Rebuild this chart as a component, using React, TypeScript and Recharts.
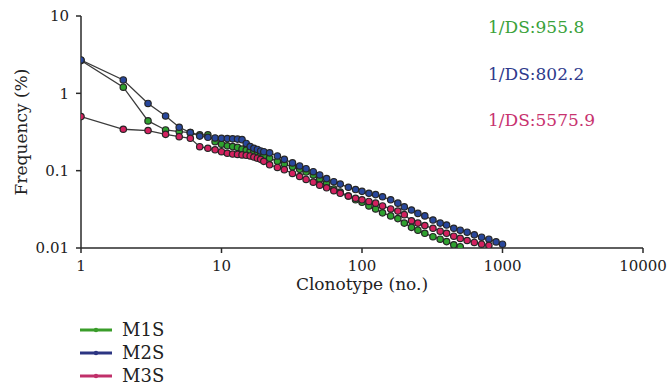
import React from 'react';
import { LineChart, Line, XAxis, YAxis } from 'recharts';

const FONT = '"DejaVu Serif", "Liberation Serif", serif';

// clonotype rank (shared by all three series)
const RANKS = [
  1, 2, 3, 4, 5, 6, 7, 8, 9, 10, 11, 12, 13, 14, 15, 16, 17, 18, 19, 20,
  22, 25, 28, 32, 36, 40, 45, 50, 56, 63, 70, 80, 90, 100,
  112, 125, 140, 160, 180, 200, 225, 250, 280, 320, 360, 400,
  450, 500, 560, 630, 710, 800, 900, 1000,
];

// frequency (%) per rank
const M1S = [
  2.65, 1.2, 0.44, 0.336, 0.32, 0.31, 0.29, 0.29, 0.237, 0.22, 0.21, 0.205, 0.2, 0.19, 0.185, 0.18, 0.175, 0.168, 0.16, 0.155,
  0.145, 0.132, 0.122, 0.112, 0.104, 0.096, 0.088, 0.078, 0.068, 0.058, 0.053, 0.047, 0.042, 0.039,
  0.035, 0.032, 0.0285, 0.026, 0.024, 0.021, 0.0185, 0.017, 0.0155, 0.014, 0.013, 0.0121,
  0.011, 0.0104,
];
const M2S = [
  2.7, 1.49, 0.74, 0.51, 0.364, 0.31, 0.28, 0.27, 0.265, 0.262, 0.26, 0.258, 0.256, 0.252, 0.225, 0.205, 0.195, 0.188, 0.18, 0.176,
  0.17, 0.155, 0.14, 0.126, 0.115, 0.106, 0.097, 0.088, 0.079, 0.072, 0.067, 0.061, 0.057, 0.054,
  0.051, 0.049, 0.046, 0.042, 0.038, 0.034, 0.031, 0.028, 0.026, 0.023, 0.021, 0.0198,
  0.018, 0.017, 0.016, 0.0148, 0.0138, 0.013, 0.012, 0.0112,
];
const M3S = [
  0.5, 0.343, 0.33, 0.295, 0.275, 0.262, 0.204, 0.195, 0.186, 0.176, 0.168, 0.164, 0.162, 0.16, 0.158, 0.155, 0.15, 0.145, 0.14, 0.132,
  0.119, 0.11, 0.103, 0.092, 0.084, 0.077, 0.071, 0.065, 0.06, 0.055, 0.051, 0.047, 0.044, 0.042,
  0.04, 0.038, 0.035, 0.032, 0.03, 0.027, 0.0225, 0.021, 0.0195, 0.018, 0.0165, 0.0155,
  0.0142, 0.0133, 0.0125, 0.0118, 0.0112, 0.0108,
];

const X_TICKS = [1, 10, 100, 1000, 10000];
const Y_TICKS = [0.01, 0.1, 1, 10];

const SERIES = [
  { name: 'M1S', values: M1S, dot: '#2fa12f', legend: '#3a9d2a', ds: '1/DS:955.8', dsColor: '#3aa23a' },
  { name: 'M2S', values: M2S, dot: '#28479c', legend: '#2c3582', ds: '1/DS:802.2', dsColor: '#2e3a8c' },
  { name: 'M3S', values: M3S, dot: '#d3215f', legend: '#c0306a', ds: '1/DS:5575.9', dsColor: '#c8336f' },
];

const toPoints = (values: number[]) => values.map((y, i) => ({ x: RANKS[i], y }));

export default function App() {
  return (
    <div style={{ position: 'absolute', left: 0, top: 0, width: 669, height: 386, background: '#fff', fontFamily: FONT }}>
      <LineChart width={669} height={386} margin={{ top: 16, right: 26, left: 0, bottom: 88 }}>
        <XAxis
          dataKey="x"
          type="number"
          scale="log"
          domain={[1, 10000]}
          ticks={X_TICKS}
          allowDataOverflow
          height={50}
          tickSize={5}
          tickMargin={7}
          stroke="#2a2a2a"
          strokeWidth={1.5}
          tick={{ fill: '#222', fontSize: 15, fontFamily: FONT }}
          label={{ value: 'Clonotype (no.)', position: 'insideBottom', offset: 8, fill: '#222', fontSize: 17, fontFamily: FONT }}
        />
        <YAxis
          type="number"
          scale="log"
          domain={[0.01, 10]}
          ticks={Y_TICKS}
          allowDataOverflow
          width={81}
          tickSize={5}
          tickMargin={7}
          stroke="#2a2a2a"
          strokeWidth={1.5}
          tickFormatter={(v: number) => String(v)}
          tick={{ fill: '#222', fontSize: 15, fontFamily: FONT }}
          label={{ value: 'Frequency (%)', angle: -90, position: 'center', dx: -20, fill: '#222', fontSize: 17, fontFamily: FONT }}
        />
        {SERIES.map((s) => (
          <Line
            key={s.name}
            name={s.name}
            data={toPoints(s.values)}
            dataKey="y"
            type="linear"
            stroke="#3b3b3b"
            strokeWidth={1.3}
            dot={{ r: 3.2, fill: s.dot, stroke: '#262626', strokeWidth: 1.2 }}
            activeDot={false}
            isAnimationActive={false}
          />
        ))}
      </LineChart>

      {SERIES.map((s, i) => (
        <div
          key={s.ds}
          style={{ position: 'absolute', left: 488, top: 17 + i * 46.5, fontSize: 17, lineHeight: '20px', color: s.dsColor, whiteSpace: 'nowrap' }}
        >
          {s.ds}
        </div>
      ))}

      <div style={{ position: 'absolute', left: 80, top: 318 }}>
        {SERIES.map((s) => (
          <div key={s.name} style={{ display: 'flex', alignItems: 'center', height: 23, fontSize: 18, color: '#222' }}>
            <svg width={32} height={8} style={{ marginRight: 10 }}>
              <line x1={0} y1={4} x2={32} y2={4} stroke={s.legend} strokeWidth={3} />
              <circle cx={16} cy={4} r={2.2} fill={s.legend} />
            </svg>
            <span>{s.name}</span>
          </div>
        ))}
      </div>
    </div>
  );
}
